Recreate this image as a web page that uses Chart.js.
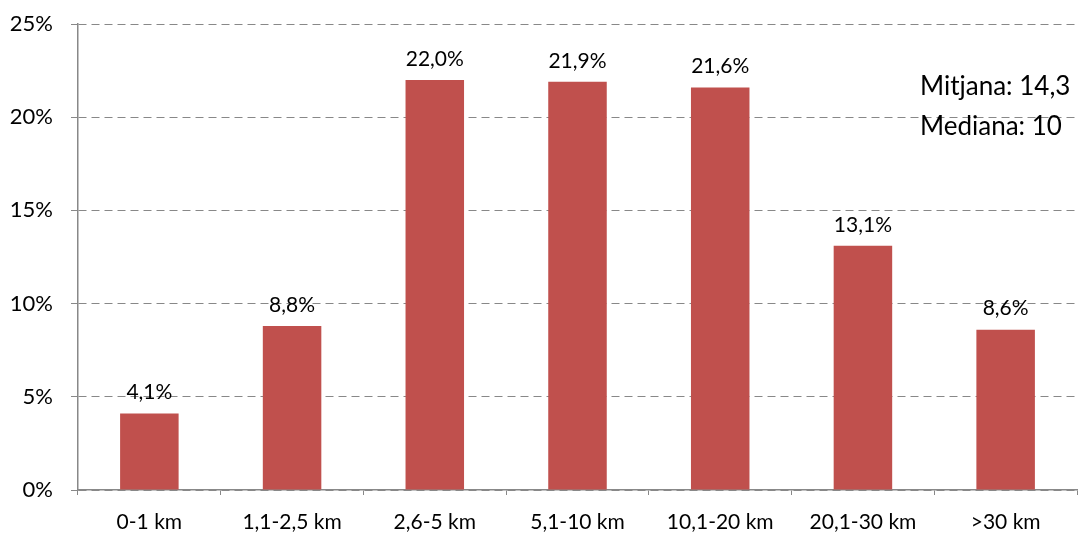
<!DOCTYPE html>
<html>
<head>
<meta charset="utf-8">
<script src="https://cdn.jsdelivr.net/npm/chart.js@4"></script>
<style>
html,body{margin:0;padding:0;background:#fff;}
#wrap{width:1079px;height:534px;position:relative;}
</style>
</head>
<body>
<div id="wrap"><canvas id="c" width="1079" height="534"></canvas></div>
<script>
const categories = ["0-1 km", "1,1-2,5 km", "2,6-5 km", "5,1-10 km", "10,1-20 km", "20,1-30 km", ">30 km"];
const values = [4.1, 8.8, 22.0, 21.9, 21.6, 13.1, 8.6];
const statLines = ["Mitjana: 14,3", "Mediana: 10"];
const FONT = "Lato, 'Open Sans', sans-serif";

const fmt = v => v.toFixed(1).replace('.', ',') + '%';

const labelPlugin = {
  id: 'labels',
  afterDatasetsDraw(chart) {
    const ctx = chart.ctx;
    const meta = chart.getDatasetMeta(0);
    ctx.save();
    ctx.font = "21px " + FONT;
    ctx.fillStyle = "#000";
    ctx.textAlign = "center";
    ctx.textBaseline = "middle";
    meta.data.forEach((bar, i) => {
      ctx.fillText(fmt(values[i]), bar.x, bar.y - 21);
    });
    ctx.font = "26px " + FONT;
    ctx.textAlign = "left";
    const ca = chart.chartArea;
    statLines.forEach((t, i) => {
      ctx.fillText(t, ca.right - 157, ca.top + 63 + i * 40);
    });
    ctx.restore();
  }
};

new Chart(document.getElementById('c'), {
  type: 'bar',
  data: {
    labels: categories,
    datasets: [{
      data: values,
      backgroundColor: '#C0504D',
      borderWidth: 0,
      categoryPercentage: 1.0,
      barPercentage: 0.41
    }]
  },
  options: {
    responsive: false,
    animation: false,
    events: [],
    layout: { padding: { left: 0, right: 2, top: 24, bottom: 0 } },
    plugins: { legend: { display: false }, tooltip: { enabled: false } },
    scales: {
      x: {
        afterFit: s => { s.height = 44; s.paddingLeft = 0; s.paddingRight = 0; },
        grid: { offset: true, drawOnChartArea: false, drawTicks: true, tickLength: 5, color: '#888', lineWidth: 1 },
        border: { color: '#888', width: 1.5 },
        ticks: { color: '#000', font: { family: FONT, size: 21 }, padding: 15, maxRotation: 0 }
      },
      y: {
        min: 0, max: 25,
        afterFit: s => { s.width = 78; s.paddingTop = 0; s.paddingBottom = 0; },
        grid: { color: '#888', lineWidth: 1, tickLength: 7, tickBorderDash: [] },
        border: { color: '#888', width: 1.5, dash: [8, 5] },
        ticks: { stepSize: 5, color: '#000', font: { family: FONT, size: 22 }, padding: 18, callback: v => v + '%' }
      }
    }
  },
  plugins: [labelPlugin]
});
</script>
</body>
</html>
